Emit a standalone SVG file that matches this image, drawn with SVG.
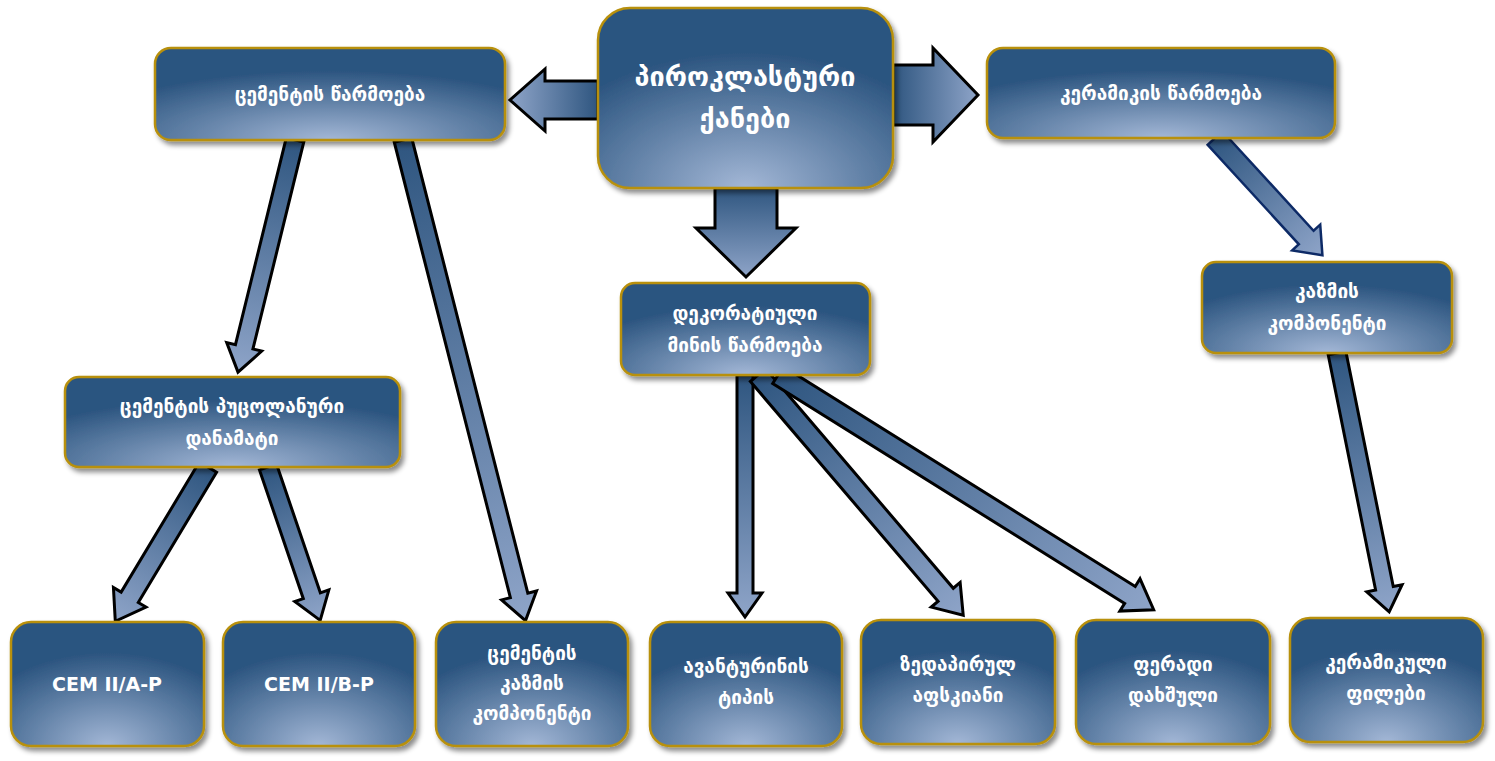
<svg xmlns="http://www.w3.org/2000/svg" width="1495" height="761" viewBox="0 0 1495 761">
<style>
.n{fill:url(#ng);stroke:#b8900a;stroke-width:2.5;filter:url(#sh)}
.t{font-family:"DejaVu Sans","Noto Sans",sans-serif;font-weight:bold;fill:#fff;font-size:19px;text-anchor:middle}
.a{fill:url(#ag);stroke:#000;stroke-width:3;stroke-linejoin:miter}
</style>
<defs>
<radialGradient id="ng" cx="0.5" cy="1" r="0.75" fx="0.5" fy="1">
<stop offset="0" stop-color="#a3b7d6"/><stop offset="1" stop-color="#2c5580"/>
</radialGradient>
<linearGradient id="ag" x1="0" y1="0" x2="1" y2="0">
<stop offset="0" stop-color="#2f5680"/><stop offset="1" stop-color="#8ea4c8"/>
</linearGradient>
<filter id="sh" x="-10%" y="-10%" width="125%" height="130%"><feDropShadow dx="3" dy="4" stdDeviation="2.5" flood-color="#000" flood-opacity="0.45"/></filter>
</defs>
<g id="connectors">
<polygon class="a" points="0,-19 53,-19 53,-31 88,0 53,31 53,19 0,19" transform="translate(598,100) rotate(180)"/>
<polygon class="a" points="0,-30 40,-30 40,-47 85,0 40,47 40,30 0,30" transform="translate(893,95)"/>
<polygon class="a" points="0,-31 40,-31 40,-50 89,0 40,50 40,31 0,31" transform="translate(746,188) rotate(90)"/>
<polygon class="a" points="0,-9 213,-9 213,-18 239,0 213,18 213,9 0,9" transform="translate(295,140) rotate(103.8)"/>
<polygon class="a" points="0,-9 470,-9 470,-18 496,0 470,18 470,9 0,9" transform="translate(403,140) rotate(75.7)"/>
<polygon class="a" points="0,-10 152,-10 152,-19 180,0 152,19 152,10 0,10" transform="translate(208,467) rotate(121)"/>
<polygon class="a" points="0,-9 136,-9 136,-18 162,0 136,18 136,9 0,9" transform="translate(268,467) rotate(71.2)"/>
<polygon class="a" points="0,-8 218,-8 218,-17 242,0 218,17 218,8 0,8" transform="translate(745,375) rotate(90)"/>
<polygon class="a" points="0,-10 289,-10 289,-19 316,0 289,19 289,10 0,10" transform="translate(758,375) rotate(49.5)"/>
<polygon class="a" points="0,-10 415,-10 415,-19 443,0 415,19 415,10 0,10" transform="translate(778,375) rotate(32)"/>
<polygon class="a" style="stroke:#0d2a66;stroke-width:2.5" points="0,-10 135,-10 135,-19 159,0 135,19 135,10 0,10" transform="translate(1215,138) rotate(47.5)"/>
<polygon class="a" points="0,-9 240,-9 240,-18 264,0 240,18 240,9 0,9" transform="translate(1337,353) rotate(78.6)"/>
</g>
<g id="n-top"><rect class="n" x="598" y="8" width="295" height="180" rx="32"/>
<text class="t" style="font-size:27px" x="745" y="86">პიროკლასტური</text><text class="t" style="font-size:27px" x="745" y="128">ქანები</text></g>
<g id="n-cement"><rect class="n" x="155" y="48" width="350" height="92" rx="16"/><text class="t" x="330" y="101">ცემენტის წარმოება</text></g>
<g id="n-keramikis"><rect class="n" x="987" y="48" width="348" height="90" rx="16"/><text class="t" x="1161" y="100">კერამიკის წარმოება</text></g>
<g id="n-deko"><rect class="n" x="621" y="283" width="249" height="92" rx="14"/><text class="t" x="745" y="320">დეკორატიული</text><text class="t" x="745" y="352">მინის წარმოება</text></g>
<g id="n-kazmis"><rect class="n" x="1202" y="262" width="250" height="91" rx="14"/><text class="t" x="1327" y="298">კაზმის</text><text class="t" x="1327" y="330">კომპონენტი</text></g>
<g id="n-puc"><rect class="n" x="65" y="377" width="335" height="90" rx="14"/><text class="t" x="232" y="413">ცემენტის პუცოლანური</text><text class="t" x="232" y="445">დანამატი</text></g>
<g id="n-cema"><rect class="n" x="11" y="622" width="193" height="124" rx="20"/><text class="t" x="107" y="691">CEM II/A-P</text></g>
<g id="n-cemb"><rect class="n" x="223" y="622" width="192" height="124" rx="20"/><text class="t" x="319" y="691">CEM II/B-P</text></g>
<g id="n-ckk"><rect class="n" x="436" y="622" width="192" height="124" rx="20"/><text class="t" x="532" y="660">ცემენტის</text><text class="t" x="532" y="690">კაზმის</text><text class="t" x="532" y="720">კომპონენტი</text></g>
<g id="n-avant"><rect class="n" x="650" y="622" width="192" height="124" rx="20"/><text class="t" x="746" y="673">ავანტურინის</text><text class="t" x="746" y="704">ტიპის</text></g>
<g id="n-zed"><rect class="n" x="861" y="620" width="194" height="124" rx="20"/><text class="t" x="958" y="671">ზედაპირულ</text><text class="t" x="958" y="702">აფსკიანი</text></g>
<g id="n-fer"><rect class="n" x="1076" y="620" width="194" height="124" rx="20"/><text class="t" x="1173" y="671">ფერადი</text><text class="t" x="1173" y="702">დახშული</text></g>
<g id="n-kerfil"><rect class="n" x="1290" y="618" width="193" height="124" rx="20"/><text class="t" x="1386" y="669">კერამიკული</text><text class="t" x="1386" y="700">ფილები</text></g>
</svg>
